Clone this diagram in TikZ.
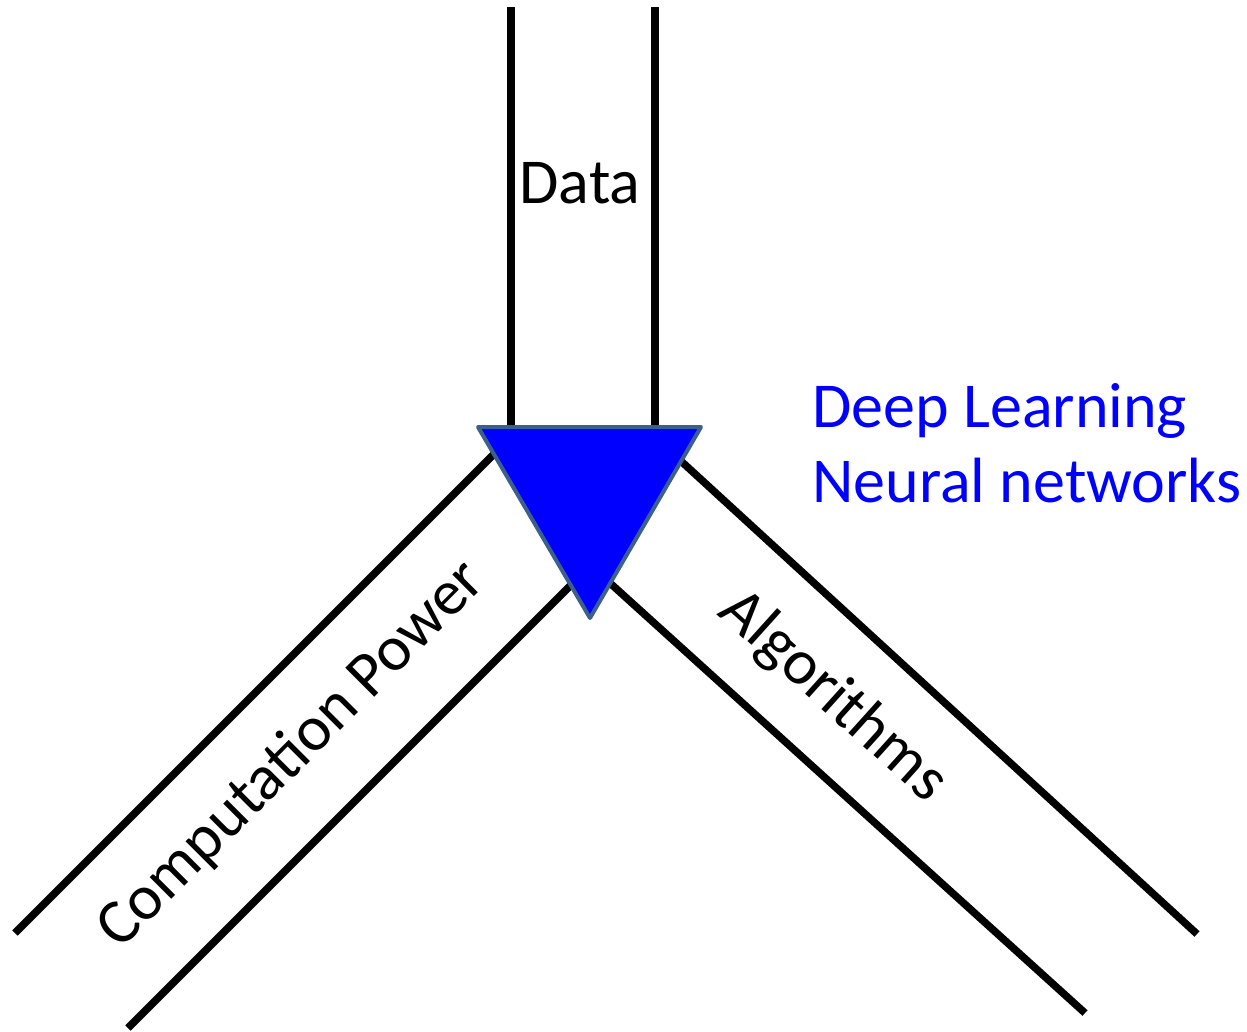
\documentclass[tikz,border=0pt]{standalone}
\usepackage{fontspec}
\setmainfont{Carlito}
\definecolor{triborder}{RGB}{60,95,140}
\begin{document}
\begin{tikzpicture}[x=1pt,y=-1pt,
  band/.style={draw=black, line width=7.5pt, line cap=butt},
  lbl/.style={font=\fontsize{64}{77}\selectfont, inner sep=0pt},
  tri/.style={fill=blue, draw=triborder, line width=4pt, line join=round}]
\useasboundingbox (0,0) rectangle (1247,1031);
% band end points
\coordinate (d1a) at (511,7);   \coordinate (d1b) at (511,440);
\coordinate (d2a) at (655,7);   \coordinate (d2b) at (655,440);
\coordinate (lo1) at (15,933);  \coordinate (lo2) at (510,438);
\coordinate (li1) at (128,1028);\coordinate (li2) at (580,576);
\coordinate (ri1) at (1085,1013);\coordinate (ri2) at (600,574);
\coordinate (ro1) at (1197,934);\coordinate (ro2) at (670,451);
% triangle corners
\coordinate (t1) at (478,427);
\coordinate (t2) at (701,427);
\coordinate (t3) at (590,618);
% bands
\draw[band] (d1a) -- (d1b);
\draw[band] (d2a) -- (d2b);
\draw[band] (lo1) -- (lo2);
\draw[band] (li1) -- (li2);
\draw[band] (ri1) -- (ri2);
\draw[band] (ro1) -- (ro2);
% triangle
\draw[tri] (t1) -- (t2) -- (t3) -- cycle;
% labels
\node[lbl, anchor=base] (data) at (580,203) {Data};
\node[lbl, anchor=base west, text=blue] (dl) at (812,427) {Deep Learning};
\node[lbl, anchor=base west, text=blue] (nn) at (812,502) {Neural networks};
\node[lbl, anchor=base, rotate=45] (cp) at (304,767) {Computation Power};
\node[lbl, anchor=base, rotate=-42] (alg) at (822,709) {Algorithms};
\end{tikzpicture}
\end{document}
